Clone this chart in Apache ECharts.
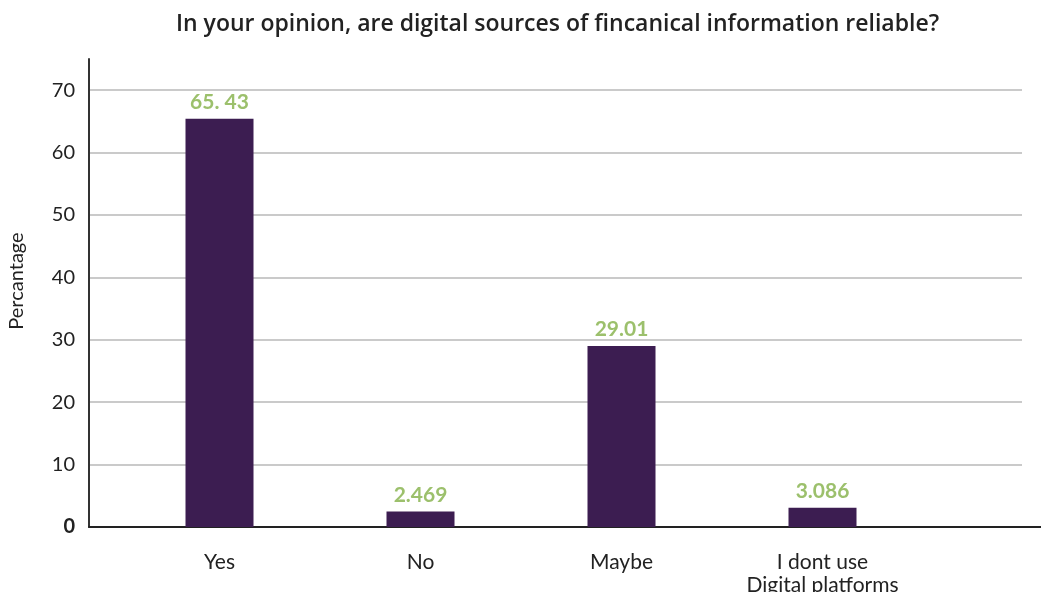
<!DOCTYPE html>
<html>
<head>
<meta charset="utf-8">
<script src="https://cdn.jsdelivr.net/npm/echarts@6/dist/echarts.min.js"></script>
<style>
  html, body { margin: 0; padding: 0; background: #fff; }
  #chart { width: 1041px; height: 592px; }
</style>
</head>
<body>
<div id="chart"></div>
<script>
// Survey answers and their shares (%)
const categories = ['Yes', 'No', 'Maybe', 'I dont use\nDigital platforms'];
const percentages = [65.43, 2.469, 29.01, 3.086];
const valueLabels = ['65. 43', '2.469', '29.01', '3.086'];
const yTicks = [0, 10, 20, 30, 40, 50, 60, 70];

const Y_MAX = 75;
const FONT = 'Lato, "Open Sans", sans-serif';
const BAR_COLOR = '#3c1d51';
const LABEL_GREEN = '#9cc06c';

const chart = echarts.init(document.getElementById('chart'));

const valueAxisBase = { type: 'value', min: 0, max: Y_MAX, interval: 10 };
const gridBox = { top: 59, bottom: 65, outerBoundsMode: 'none', containLabel: false };

chart.setOption({
  animation: false,
  backgroundColor: '#ffffff',
  title: {
    text: 'In your opinion, are digital sources of fincanical information reliable?',
    left: 171,
    top: 8,
    textStyle: { fontFamily: '"Open Sans", sans-serif', fontWeight: 600, fontSize: 23, color: '#222222' }
  },
  grid: [
    // baseline running to the right edge
    Object.assign({ left: 89, right: 0 }, gridBox),
    // value scale with horizontal guides
    Object.assign({ left: 89, right: 19 }, gridBox),
    // bars
    Object.assign({ left: 119, right: 118 }, gridBox)
  ],
  xAxis: [
    {
      gridIndex: 0, type: 'category', data: categories,
      axisLine: { show: true, lineStyle: { color: '#222222', width: 2 } },
      axisTick: { show: false }, axisLabel: { show: false }, splitLine: { show: false }
    },
    {
      gridIndex: 1, type: 'category', data: categories, show: false
    },
    {
      gridIndex: 2, type: 'category', data: categories,
      axisLine: { show: false }, axisTick: { show: false },
      axisLabel: {
        margin: 24, fontFamily: FONT, fontSize: 21, color: '#222222', lineHeight: 23
      }
    }
  ],
  yAxis: [
    Object.assign({ gridIndex: 0, show: false }, valueAxisBase),
    Object.assign({
      gridIndex: 1,
      name: 'Percantage',
      nameLocation: 'middle',
      nameGap: 62,
      nameRotate: 90,
      nameTextStyle: { fontFamily: FONT, fontSize: 20, color: '#222222', padding: [0, 0, 0, 24] },
      axisLine: { show: true, lineStyle: { color: '#333333', width: 2 } },
      axisTick: { show: false },
      axisLabel: {
        margin: 14, fontFamily: FONT, fontSize: 20, color: '#222222',
        showMaxLabel: false,
        formatter: v => (yTicks.indexOf(v) === -1 ? '' : (v === 0 ? '{zero|0}' : String(v))),
        rich: { zero: { fontFamily: FONT, fontSize: 20, fontWeight: 'bold', color: '#222222' } }
      },
      splitLine: { show: true, showMinLine: false, showMaxLine: false, lineStyle: { color: '#b9b9b9', width: 1.5 } }
    }, valueAxisBase),
    Object.assign({ gridIndex: 2, show: false }, valueAxisBase)
  ],
  series: [{
    type: 'bar',
    xAxisIndex: 2,
    yAxisIndex: 2,
    data: percentages,
    barWidth: 68,
    itemStyle: { color: BAR_COLOR },
    label: {
      show: true,
      position: 'top',
      distance: 6,
      fontFamily: FONT,
      fontWeight: 'bold',
      fontSize: 21,
      color: LABEL_GREEN,
      formatter: p => valueLabels[p.dataIndex]
    }
  }]
});
</script>
</body>
</html>
